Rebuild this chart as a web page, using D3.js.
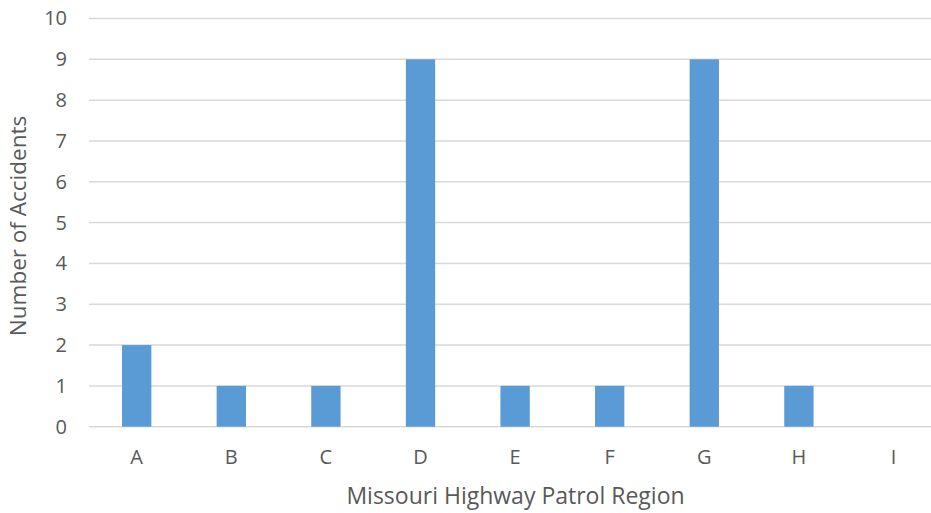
<!DOCTYPE html>
<html><head><meta charset="utf-8">
<script src="https://cdn.jsdelivr.net/npm/d3@7"></script>
<style>body{margin:0;background:#fff;}svg{display:block;font-family:"Open Sans",sans-serif;}</style>
</head><body>
<svg id="c" width="931" height="513"></svg>
<script>
const categories = ["A","B","C","D","E","F","G","H","I"];
const values = [2,1,1,9,1,1,9,1,0];
const yTicks = [0,1,2,3,4,5,6,7,8,9,10];
const xTitle = "Missouri Highway Patrol Region";
const yTitle = "Number of Accidents";

const svg = d3.select("#c");
const x = d3.scaleBand().domain(categories).range([89.4, 940.8]).paddingInner(0.69).paddingOuter(0.345);
const y = d3.scaleLinear().domain([0,10]).range([426.7, 18.5]);

svg.append("g").selectAll("line").data(yTicks).join("line")
  .attr("x1", 89).attr("x2", 931)
  .attr("y1", d => y(d)).attr("y2", d => y(d))
  .attr("stroke", "#d9d9d9").attr("stroke-width", 1.5);

svg.append("g").selectAll("rect").data(values).join("rect")
  .attr("x", (d,i) => x(categories[i]))
  .attr("width", x.bandwidth())
  .attr("y", d => y(d))
  .attr("height", d => y(0) - y(d))
  .attr("fill", "#5b9bd5");

const yAxis = svg.append("g").attr("transform", "translate(89,0)")
  .call(d3.axisLeft(y).tickValues(yTicks).tickSize(0).tickPadding(22));
yAxis.select(".domain").remove();
yAxis.selectAll("text").attr("fill", "#595959").style("font-size", "20px").style("font-family", "'Open Sans',sans-serif");

const xAxis = svg.append("g").attr("transform", "translate(0,426.7)")
  .call(d3.axisBottom(x).tickSize(0).tickPadding(23));
xAxis.select(".domain").remove();
xAxis.selectAll("text").attr("fill", "#595959").style("font-size", "20px").style("font-family", "'Open Sans',sans-serif");

svg.append("text").attr("x", 515.5).attr("y", 504).attr("text-anchor", "middle")
  .attr("fill", "#595959").style("font-size", "23px").text(xTitle);
svg.append("text").attr("transform", "translate(26,226) rotate(-90)").attr("text-anchor", "middle")
  .attr("fill", "#595959").style("font-size", "22.5px").text(yTitle);
</script>
</body></html>
